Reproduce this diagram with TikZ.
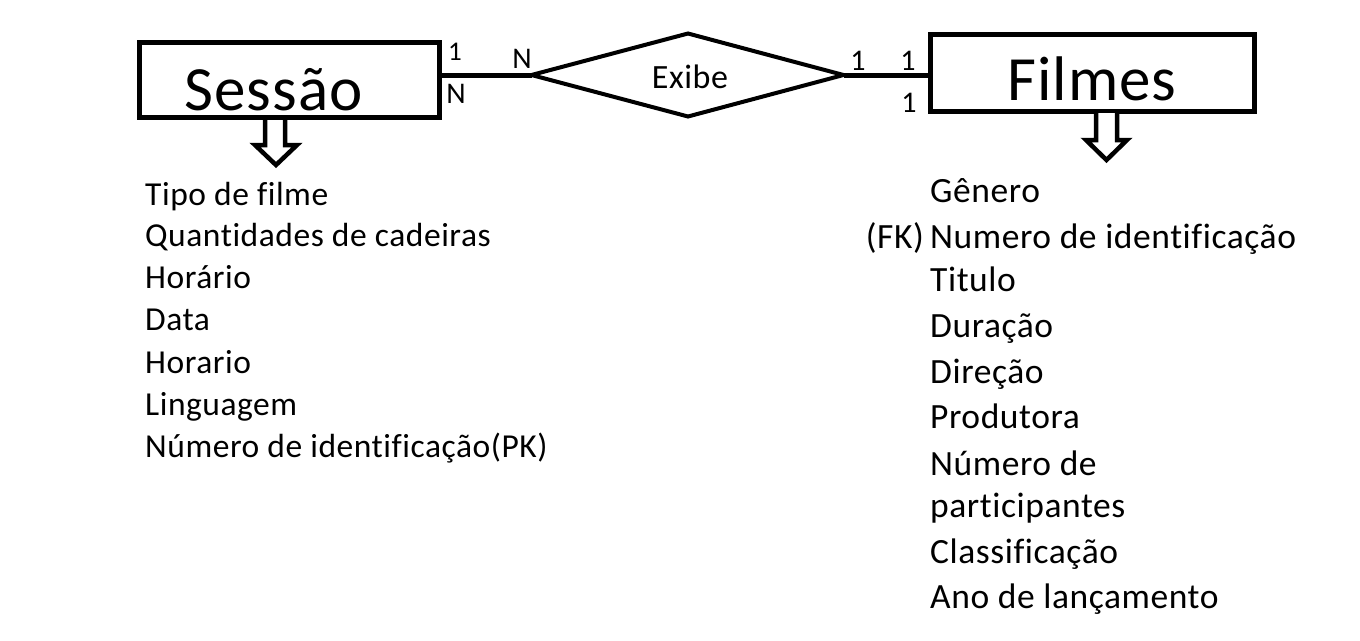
\documentclass[tikz,border=0pt]{standalone}
\usepackage{fontspec}
\setmainfont[Ligatures=NoCommon]{Carlito}
\newfontfamily\attrfont[Ligatures=NoCommon,LetterSpace=1.6]{Carlito}
\begin{document}
\begin{tikzpicture}[x=1pt,y=-1pt,
  ent/.style={draw,line width=5pt,inner sep=0pt,outer sep=0pt},
  big/.style={font=\attrfont\fontsize{63}{70}\selectfont,inner sep=0pt},
  attr/.style={font=\attrfont\fontsize{33.5}{40}\selectfont,inner sep=0pt,anchor=base west},
  rattr/.style={attr,font=\attrfont\fontsize{35.5}{42}\selectfont},
  card/.style={font=\fontsize{30}{36}\selectfont,inner sep=0pt,anchor=base},
  hollow/.style={draw,line width=4.5pt,line join=miter,fill=white},
  rel/.style={line width=5pt}]
\useasboundingbox (0,0) rectangle (1360,640);

% entity boxes
\node[ent,minimum width=300pt,minimum height=75pt] (sbox) at (289.5,80) {};
\node[big,anchor=base] (stxt) at (273.5,110) {Sessão};
\node[ent,minimum width=324pt,minimum height=77pt] (fbox) at (1092.5,73) {};
\node[big,anchor=base] (ftxt) at (1092,100) {Filmes};

% relationship diamond
\coordinate (dl) at (531.5,75);
\coordinate (dt) at (688,33.5);
\coordinate (dr) at (843.5,75);
\coordinate (db) at (688,116.5);
\draw[line width=4pt,line join=miter] (dl) -- (dt) -- (dr) -- (db) -- cycle;
\node[font=\attrfont\fontsize{34}{40}\selectfont,inner sep=0pt,anchor=base] (exibe) at (690,88) {Exibe};

% connectors
\draw[rel] (sbox.east |- dl) -- (dl);
\draw[rel] (dr) -- (fbox.west |- dr);

% cardinalities
\node[card,font=\fontsize{27}{32}\selectfont] (c1) at (455,60) {1};
\node[card] (c2) at (456,103) {N};
\node[card] (c3) at (522,68) {N};
\node[card] (c4) at (858,70) {1};
\node[card] (c5) at (908,70) {1};
\node[card] (c6) at (909,112) {1};

% hollow arrows
\draw[hollow] (265,120) -- (265,145) -- (255,145) -- (276,165) -- (297,145) -- (285,145) -- (285,120);
\draw[hollow] (1096,113) -- (1096,140) -- (1086,140) -- (1106.5,160) -- (1127,140) -- (1117,140) -- (1117,113);

% Sessao attributes
\node[attr] (s1) at (145,205) {Tipo de filme};
\node[attr] (s2) at (145,246) {Quantidades de cadeiras};
\node[attr] (s3) at (145,288) {Horário};
\node[attr] (s4) at (145,330) {Data};
\node[attr] (s5) at (145,373) {Horario};
\node[attr] (s6) at (145,415) {Linguagem};
\node[attr] (s7) at (145,457) {Número de identificação(PK)};

% Filmes attributes
\node[rattr] (f1) at (930,202) {Gênero};
\node[rattr] (f2) at (930,248) {Numero de identificação};
\node[rattr,anchor=base east] (fk) at (924,248) {(FK)};
\node[rattr] (f3) at (930,291) {Titulo};
\node[rattr] (f4) at (930,337) {Duração};
\node[rattr] (f5) at (930,383) {Direção};
\node[rattr] (f6) at (930,428) {Produtora};
\node[rattr] (f7) at (930,475) {Número de};
\node[rattr] (f8) at (930,517) {participantes};
\node[rattr] (f9) at (930,563) {Classificação};
\node[rattr] (f10) at (930,608) {Ano de lançamento};
\end{tikzpicture}
\end{document}
